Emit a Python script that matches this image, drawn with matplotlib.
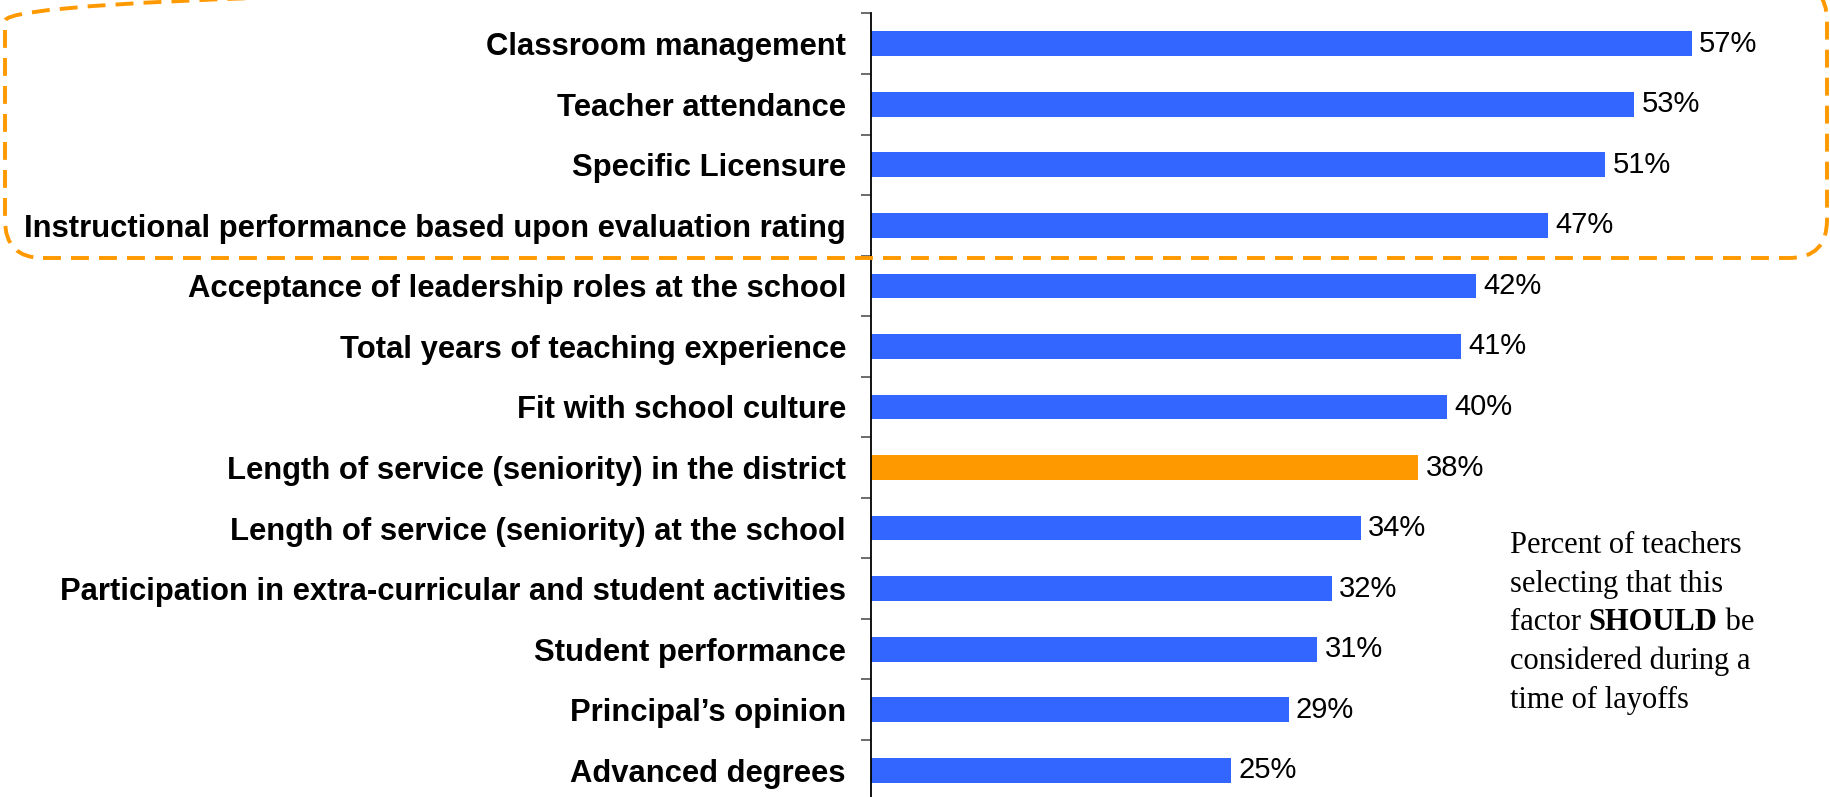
import numpy as np
import matplotlib
matplotlib.use("Agg")
import matplotlib.pyplot as plt
from matplotlib import font_manager
from matplotlib.patches import FancyBboxPatch
from matplotlib.transforms import IdentityTransform

categories = ["Classroom management",
              "Teacher attendance",
              "Specific Licensure",
              "Instructional performance based upon evaluation rating",
              "Acceptance of leadership roles at the school",
              "Total years of teaching experience",
              "Fit with school culture",
              "Length of service (seniority) in the district",
              "Length of service (seniority) at the school",
              "Participation in extra-curricular and student activities",
              "Student performance",
              "Principal\u2019s opinion",
              "Advanced degrees"]
values = [57, 53, 51, 47, 42, 41, 40, 38, 34, 32, 31, 29, 25]
highlight = "Length of service (seniority) in the district"

blue = "#3366FF"
orange = "#FF9900"

names = {f.name for f in font_manager.fontManager.ttflist}
if "Liberation Sans Narrow" in names:
    lab_font = "Liberation Sans Narrow"
    lab_size = 21
else:
    lab_font = "Liberation Sans"
    lab_size = 22.3

W, H = 1830, 797
fig = plt.figure(figsize=(W/100, H/100), dpi=100)
ax = fig.add_axes([871/W, -3.5/H, 1-871/W, 787/H])

y = np.arange(len(categories))
cols = [orange if c == highlight else blue for c in categories]
ax.barh(y, values, height=0.41, color=cols)

for yi, v in zip(y, values):
    ax.text(v + 0.5, yi, f"{v}%", va="center", ha="left",
            fontsize=21, family="Liberation Sans")

ax.set_ylim(len(categories) - 0.5, -0.5)
ax.set_xlim(0, (W - 871) / 14.4)

ax.set_yticks(y)
ax.set_yticklabels(categories, fontsize=lab_size, fontweight="bold", family=lab_font)
ax.set_yticks(np.arange(len(categories) + 1) - 0.5, minor=True)
ax.tick_params(axis="y", which="major", length=0, pad=18)
ax.tick_params(axis="y", which="minor", length=7, width=1.3, color="#606060")
ax.set_xticks([])
for s in ["top", "right", "bottom"]:
    ax.spines[s].set_visible(False)
ax.spines["left"].set_linewidth(1.3)

# note on the right, one line at a time
fs = 22
serif = "Liberation Serif"
x0, y0 = 1510 / W, 1 - 553 / H
dy = 38.7 / H
note = ["Percent of teachers", "selecting that this", None,
        "considered during a", "time of layoffs"]
for i, line in enumerate(note):
    if line:
        fig.text(x0, y0 - i*dy, line, fontsize=fs, family=serif)

# third line mixes normal and bold text
r = fig.canvas.get_renderer()
xx = x0
for part, wt in [("factor ", "normal"), ("SHOULD", "bold"), (" be", "normal")]:
    t = fig.text(xx, y0 - 2*dy, part, fontsize=fs, family=serif, fontweight=wt)
    xx += t.get_window_extent(renderer=r).width / W

# dashed rounded box around the top four
box = FancyBboxPatch((5, H - 258), 1822, 275,
                     boxstyle="round,pad=0,rounding_size=38",
                     transform=IdentityTransform(), fill=False,
                     edgecolor=orange, linewidth=2.8, linestyle=(0, (4.6, 2.6)))
fig.add_artist(box)

fig.savefig("out.png", dpi=100)
